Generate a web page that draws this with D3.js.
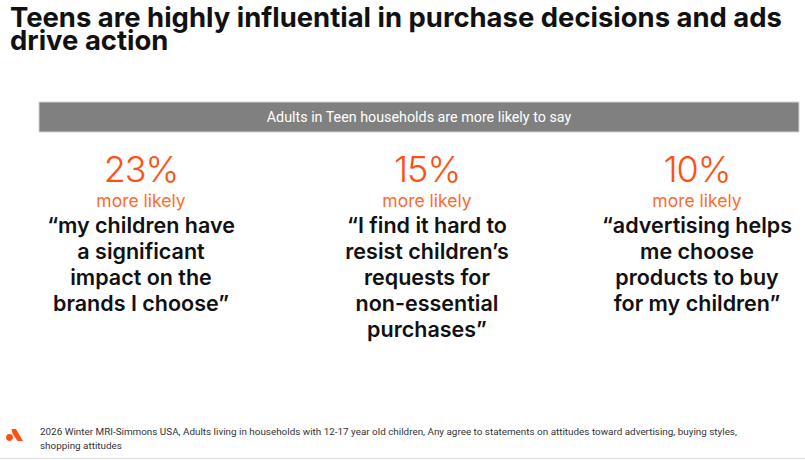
<!DOCTYPE html>
<html lang="en">
<head>
<meta charset="UTF-8">
<title>Teens are highly influential</title>
<script src="https://d3js.org/d3.v7.min.js"></script>
<style>
  body { margin: 0; background: #fff; }
  svg { display: block; }
</style>
</head>
<body>
<svg id="chart" width="805" height="460"></svg>
<script>
// data
const titleLines = ["Teens are highly influential in purchase decisions and ads", "drive action"];
const bannerText = "Adults in Teen households are more likely to say";
const stats = ["23%", "15%", "10%"];
const statLabel = ["more likely", "more likely", "more likely"];
const quotes = [
  ["\u201cmy children have", "a significant", "impact on the", "brands I choose\u201d"],
  ["\u201cI find it hard to", "resist children\u2019s", "requests for", "non-essential", "purchases\u201d"],
  ["\u201cadvertising helps", "me choose", "products to buy", "for my children\u201d"]
];
const footnote = [
  "2026 Winter MRI-Simmons USA, Adults living in households with 12-17 year old children, Any agree to statements on attitudes toward advertising, buying styles,",
  "shopping attitudes"
];

const svg = d3.select("#chart");
const W = 805;
const orange = "#ff5014";

// title, fitted to the slide width
const title = svg.append("g");
title.selectAll("text").data(titleLines).enter().append("text")
  .attr("x", 0).attr("y", (d, i) => 27 + i * 23)
  .attr("font-family", "Inter, sans-serif").attr("font-weight", 700)
  .attr("font-size", 27.5).attr("fill", "#111")
  .text(d => d);
let len = title.select("text").node().getComputedTextLength();
title.attr("transform", `translate(10,0) scale(${772 / len},1)`);

// grey banner
svg.append("rect").attr("x", 39).attr("y", 102).attr("width", 760).attr("height", 30)
  .attr("fill", "#808080").attr("stroke", "#d4d4d4").attr("stroke-width", 1);
svg.append("text").attr("x", 419).attr("y", 122).attr("text-anchor", "middle")
  .attr("font-family", "Roboto, sans-serif").attr("font-size", 14.3).attr("fill", "#fff")
  .text(bannerText);

// three columns (text boxes on the slide are not evenly spaced)
const x = d3.scaleOrdinal().domain(d3.range(stats.length)).range([141, 427, 697]);
const col = svg.selectAll("g.col").data(stats).enter().append("g")
  .attr("class", "col")
  .attr("transform", (d, i) => `translate(${x(i)},0)`);

col.append("text").attr("y", 182).attr("text-anchor", "middle")
  .attr("font-family", "Inter, sans-serif").attr("font-weight", 300)
  .attr("font-size", 36).attr("letter-spacing", -1).attr("fill", orange)
  .text(d => d);

col.append("text").attr("y", 207).attr("text-anchor", "middle")
  .attr("font-family", "Inter, sans-serif").attr("font-weight", 400)
  .attr("font-size", 17.5).attr("fill", "#ff6a2e")
  .text((d, i) => statLabel[i]);

col.each(function(d, i) {
  d3.select(this).selectAll("text.q").data(quotes[i]).enter().append("text")
    .attr("class", "q")
    .attr("y", (q, j) => 233 + j * 26).attr("text-anchor", "middle")
    .attr("font-family", "Inter, sans-serif").attr("font-weight", 600)
    .attr("font-size", 21.5).attr("fill", "#111")
    .text(q => q);
});

// footer logo + source
const logo = svg.append("g").attr("fill", orange);
logo.append("path").attr("d", "M11.5,429 L16,429 L23,441 L17.5,441 L12.5,433.5 Z");
logo.append("circle").attr("cx", 9.5).attr("cy", 437.5).attr("r", 3.4);

svg.append("g").selectAll("text").data(footnote).enter().append("text")
  .attr("x", 40).attr("y", (d, i) => 435 + i * 13.5)
  .attr("font-family", "Roboto, sans-serif").attr("font-size", 9.9).attr("fill", "#333")
  .text(d => d);

svg.append("line").attr("x1", 0).attr("x2", W).attr("y1", 458.5).attr("y2", 458.5)
  .attr("stroke", "#e6e6e6").attr("stroke-width", 1.5);
</script>
</body>
</html>
